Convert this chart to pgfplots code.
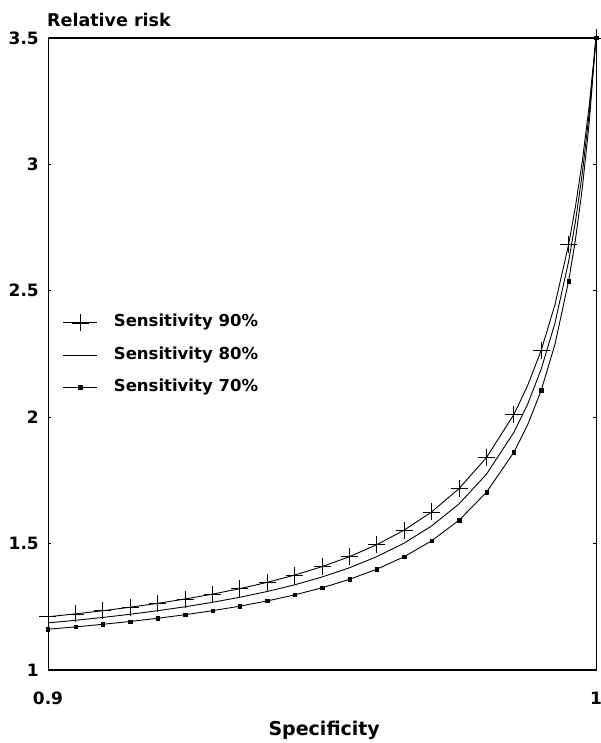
\documentclass[border=0pt]{standalone}
\usepackage{fontspec}
\setmainfont{DejaVu Sans}
\usepackage{pgfplots}
\usepackage{pgfplotstable}
\pgfplotsset{compat=1.18}
\pgfplotstableread{
x      s90    s80    s70
0.900  1.2106 1.1863 1.1614
0.905  1.2220 1.1966 1.1706
0.910  1.2345 1.2079 1.1808
0.915  1.2483 1.2205 1.1920
0.920  1.2636 1.2345 1.2046
0.925  1.2807 1.2501 1.2186
0.930  1.3000 1.2677 1.2345
0.935  1.3218 1.2877 1.2525
0.940  1.3467 1.3105 1.2732
0.945  1.3754 1.3369 1.2971
0.950  1.4088 1.3678 1.3251
0.955  1.4483 1.4043 1.3585
0.960  1.4956 1.4483 1.3987
0.965  1.5533 1.5021 1.4483
0.970  1.6253 1.5698 1.5109
0.975  1.7175 1.6570 1.5923
0.980  1.8400 1.7741 1.7027
0.985  2.0105 1.9393 1.8608
0.9875 2.1238 2.0503 1.9686
0.990  2.2645 2.1901 2.1061
0.9925 2.4445 2.3714 2.2875
0.995  2.6826 2.6161 2.5379
0.99625 2.8330 2.7736 2.7026
0.9975 3.0126 2.9645 2.9060
0.99875 3.2302 3.2005 3.1634
1.000  3.5    3.5    3.5
}\curves
\pgfplotstableread{
x      s90    s70
0.900  1.2106 1.1614
0.905  1.2220 1.1706
0.910  1.2345 1.1808
0.915  1.2483 1.1920
0.920  1.2636 1.2046
0.925  1.2807 1.2186
0.930  1.3000 1.2345
0.935  1.3218 1.2525
0.940  1.3467 1.2732
0.945  1.3754 1.2971
0.950  1.4088 1.3251
0.955  1.4483 1.3585
0.960  1.4956 1.3987
0.965  1.5533 1.4483
0.970  1.6253 1.5109
0.975  1.7175 1.5923
0.980  1.8400 1.7027
0.985  2.0105 1.8608
0.990  2.2645 2.1061
0.995  2.6826 2.5379
1.000  3.5    3.5
}\marks
\begin{document}
\begin{tikzpicture}
\useasboundingbox (-48pt,-73pt) rectangle (553pt,670pt);
\begin{axis}[
  scale only axis, width=548pt, height=632pt,
  xmin=0.9, xmax=1, ymin=1, ymax=3.5,
  xtick={0.9,1}, xticklabels={0.9,1},
  ytick={1,1.5,2,2.5,3,3.5}, yticklabels={1,1.5,2,2.5,3,3.5},
  tick align=inside, major tick length=3pt,
  tick style={black, line width=0.6pt},
  xtick style={draw=none},
  ticklabel style={font=\fontsize{17}{20}\selectfont\bfseries, inner sep=0pt},
  xticklabel style={anchor=base, yshift=-34pt},
  yticklabel style={anchor=east, xshift=-9pt},
  clip=false,
  axis line style={line width=0.8pt},
  legend style={draw=none, fill=none, at={(0.027,0.563)}, anchor=north west,
    font=\fontsize{16.5}{19}\selectfont\bfseries, inner sep=0pt,
    nodes={inner sep=0pt, text height=11pt, text depth=3pt},
    row sep=17.5pt, column sep=16pt},
  legend cell align=left,
  legend image code/.code={\draw[mark repeat=2,mark phase=2,#1] plot coordinates {(0pt,0pt) (17pt,0pt) (34pt,0pt)};},
]
\addplot[black, line width=0.9pt, forget plot] table[x=x, y=s90] {\curves};
\addplot[black, line width=0.9pt, forget plot] table[x=x, y=s80] {\curves};
\addplot[black, line width=0.9pt, forget plot] table[x=x, y=s70] {\curves};
\addplot[only marks, mark=+, mark size=8.5pt, mark options={line width=0.7pt}, forget plot] table[x=x, y=s90] {\marks};
\addplot[only marks, mark=square*, mark size=1.7pt, forget plot] table[x=x, y=s70] {\marks};
\addlegendimage{black, line width=0.9pt, mark=+, mark size=8.5pt, mark options={line width=0.7pt}}
\addlegendentry{Sensitivity 90\%}
\addlegendimage{black, line width=0.9pt}
\addlegendentry{Sensitivity 80\%}
\addlegendimage{black, line width=0.9pt, mark=square*, mark size=1.7pt}
\addlegendentry{Sensitivity 70\%}
\draw[line width=1.6pt] (rel axis cs:0,1) -- (rel axis cs:1,1);
\draw[line width=1.6pt] (rel axis cs:0,0) -- (rel axis cs:1,0);
\node[anchor=base west, inner sep=0pt, font=\fontsize{17.5}{20}\selectfont\bfseries] at ([xshift=-1pt, yshift=11pt]rel axis cs:0,1) {Relative risk};
\node[anchor=base, inner sep=0pt, font=\fontsize{19}{22}\selectfont\bfseries] at ([yshift=-65pt]rel axis cs:0.504,0) {Specificity};
\end{axis}
\end{tikzpicture}
\end{document}
